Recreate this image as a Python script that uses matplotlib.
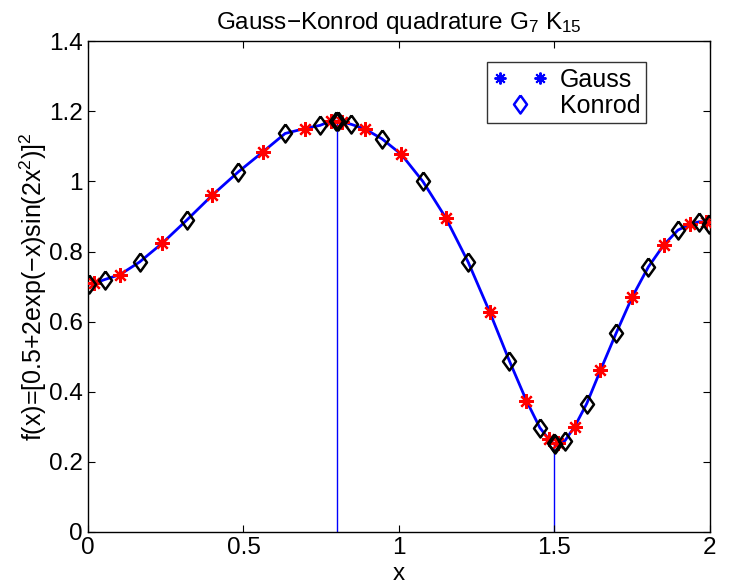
import numpy as np
import matplotlib
matplotlib.use('Agg')
import matplotlib.pyplot as plt
from matplotlib.legend_handler import HandlerLine2D

plt.rcParams['font.family'] = ['Liberation Sans', 'DejaVu Sans']
plt.rcParams['mathtext.default'] = 'regular'

# Gauss nodes (red stars)
xg = [0.020, 0.103, 0.238, 0.400, 0.562, 0.697, 0.780,
      0.818, 0.890, 1.008, 1.150, 1.292, 1.410, 1.482,
      1.513, 1.565, 1.648, 1.750, 1.851, 1.935, 1.987]
yg = [0.709, 0.734, 0.823, 0.961, 1.084, 1.151, 1.172,
      1.170, 1.150, 1.077, 0.897, 0.627, 0.374, 0.264,
      0.253, 0.300, 0.461, 0.670, 0.818, 0.878, 0.884]

# Kronrod-only nodes (black diamonds)
xk = [0.003, 0.054, 0.166, 0.317, 0.483, 0.634, 0.746, 0.797,
      0.803, 0.847, 0.945, 1.077, 1.223, 1.355, 1.453, 1.497,
      1.502, 1.534, 1.604, 1.698, 1.802, 1.897, 1.966, 1.998]
yk = [0.707, 0.720, 0.770, 0.889, 1.027, 1.137, 1.160, 1.172,
      1.172, 1.163, 1.122, 1.000, 0.769, 0.488, 0.297, 0.252,
      0.250, 0.260, 0.366, 0.566, 0.756, 0.861, 0.885, 0.878]

# subinterval breakpoints
xb = [0.8, 1.5]
yb = [1.172, 0.251]

xc = np.array(xg + xk)
yc = np.array(yg + yk)
order = np.argsort(xc)

# matlab-like diamond, a bit taller than wide
diam = [(0, 1), (0.72, 0), (0, -1), (-0.72, 0), (0, 1)]
star = (8, 2, 0)

fig = plt.figure(figsize=(7.3, 5.88), dpi=100)
ax = fig.add_axes([0.1205, 0.0957, 0.852, 0.834])

ax.plot(xc[order], yc[order], '-', color='#0000ff', lw=2, zorder=2)
ax.vlines(xb, 0, yb, color='#0000ff', lw=1, zorder=1)
ax.plot(xg, yg, ls='none', marker=star, ms=10.5, mew=1.6, color='#ff0000', zorder=3)
ax.plot(xk, yk, ls='none', marker=diam, ms=13, mew=1.8, mfc='none', mec='k', zorder=4)

hg, = ax.plot([], [], ls='none', marker=star, ms=8.5, mew=1.4, color='#0000ff', label='Gauss')
hk, = ax.plot([], [], ls='none', marker=diam, ms=13, mew=1.8, mfc='none', mec='#0000ff', label='Konrod')

ax.set_xlim(0, 2)
ax.set_ylim(0, 1.4)
ax.set_xticks([0, 0.5, 1, 1.5, 2])
ax.set_xticklabels(['0', '0.5', '1', '1.5', '2'])
ax.set_yticks([0, 0.2, 0.4, 0.6, 0.8, 1, 1.2, 1.4])
ax.set_yticklabels(['0', '0.2', '0.4', '0.6', '0.8', '1', '1.2', '1.4'])
ax.tick_params(direction='in', top=True, right=True, labelsize=17.5, length=5, width=0.8, pad=4)
for s in ax.spines.values():
    s.set_linewidth(1)

ax.set_xlabel('x', fontsize=17.5, labelpad=3)
ax.set_ylabel(r'f(x)=[0.5+2exp($-$x)sin(2x$^2$)]$^2$', fontsize=18, labelpad=0)
ax.set_title(r'Gauss$-$Konrod quadrature G$_7$ K$_{15}$', fontsize=17.5, pad=9)

leg = ax.legend(handles=[hg, hk], loc='upper left', bbox_to_anchor=(0.641, 0.957),
                numpoints=2, handler_map={hk: HandlerLine2D(numpoints=1)},
                fontsize=18, frameon=True, fancybox=False, edgecolor='k',
                handlelength=2.2, handletextpad=0.5, borderpad=0.22, labelspacing=0.08,
                borderaxespad=0)
leg.get_frame().set_linewidth(1)

fig.savefig('out.png', dpi=100)
